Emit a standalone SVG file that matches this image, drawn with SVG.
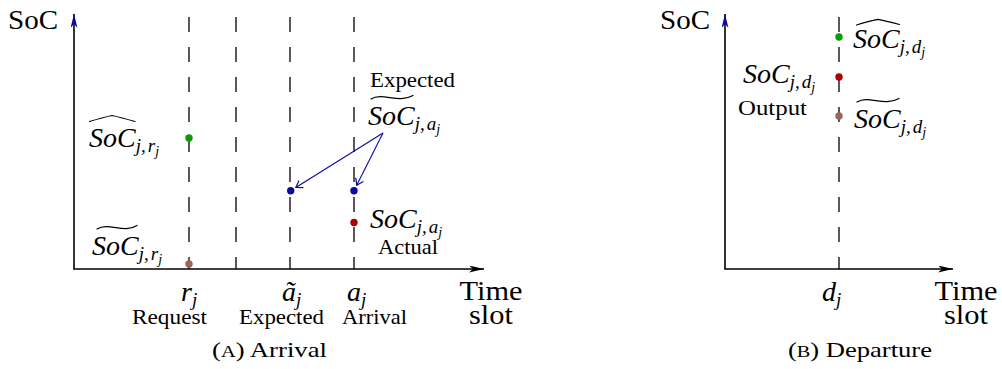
<svg xmlns="http://www.w3.org/2000/svg" width="1002" height="369" viewBox="0 0 1002 369">
<style>
.lbl{font-family:"Liberation Serif",serif;font-size:21px;fill:#000}
.ax{font-family:"Liberation Serif",serif;font-size:28px;fill:#000}
.mi{font-family:"Liberation Serif",serif;font-style:italic;font-size:28px;fill:#000}
.sub{font-size:19px}
.ss{font-size:14px}
.axis{stroke:#000;stroke-width:1.6;fill:none}
.guide{stroke:#000;stroke-width:1.3;stroke-dasharray:15 15;fill:none}
.acc{stroke:#000;stroke-width:1.2;fill:none;stroke-linecap:round;stroke-linejoin:round}
.conn{stroke:#0a0aa0;stroke-width:1.1;fill:none}
.g{fill:#0c9a0c}.r{fill:#b00000}.b{fill:#0a0a9c}.br{fill:#9a6458}
</style>
<defs>
<marker id="stealthK" viewBox="0 0 15 7" refX="15" refY="3.5" markerWidth="15" markerHeight="7" markerUnits="userSpaceOnUse" orient="auto"><path d="M0 0 L15 3.5 L0 7 L4 3.5 Z" fill="#000"/></marker>
<marker id="stealthB" viewBox="0 0 14 7" refX="14" refY="3.5" markerWidth="14" markerHeight="7" markerUnits="userSpaceOnUse" orient="auto"><path d="M0 0 L14 3.5 L0 7 L4 3.5 Z" fill="#0a0aa0"/></marker>
<marker id="toB" viewBox="-7 -5 8 10" refX="0" refY="0" markerWidth="8" markerHeight="10" markerUnits="userSpaceOnUse" orient="auto"><path d="M-6 -4 Q-2 -1.2 0 0 Q-2 1.2 -6 4" fill="none" stroke="#0a0aa0" stroke-width="1.2" stroke-linecap="round"/></marker>
</defs>

<g id="panelA-axes">
<line class="axis" x1="74" y1="269" x2="74" y2="14" marker-end="url(#stealthB)"/>
<line class="axis" x1="73.2" y1="269" x2="484" y2="269" marker-end="url(#stealthK)"/>
<text class="ax" x="8" y="29" textLength="50" lengthAdjust="spacingAndGlyphs">SoC</text>
<text class="ax" x="491" y="300" text-anchor="middle" textLength="63" lengthAdjust="spacingAndGlyphs">Time</text>
<text class="ax" x="491" y="324" text-anchor="middle" textLength="44" lengthAdjust="spacingAndGlyphs">slot</text>
</g>

<g id="panelA-guides">
<line class="guide" x1="189" y1="17" x2="189" y2="269"/>
<line class="guide" x1="236" y1="17" x2="236" y2="269"/>
<line class="guide" x1="290" y1="17" x2="290" y2="269"/>
<line class="guide" x1="354" y1="17" x2="354" y2="269"/>
</g>

<g id="tick-request">
<text class="mi" x="181" y="301">r<tspan class="sub" dy="5">j</tspan></text>
<text class="lbl" x="169.5" y="324" text-anchor="middle" textLength="75" lengthAdjust="spacingAndGlyphs">Request</text>
</g>
<g id="tick-expected">
<text class="mi" x="282" y="301">ã<tspan class="sub" dy="5">j</tspan></text>
<text class="lbl" x="281.5" y="324" text-anchor="middle" textLength="85" lengthAdjust="spacingAndGlyphs">Expected</text>
</g>
<g id="tick-arrival">
<text class="mi" x="347" y="301">a<tspan class="sub" dy="5">j</tspan></text>
<text class="lbl" x="374.5" y="324" text-anchor="middle" textLength="65" lengthAdjust="spacingAndGlyphs">Arrival</text>
</g>

<g id="node-hat-r">
<circle class="g" cx="189" cy="138" r="3.7"/>
<path class="acc" d="M89.5 121.5 Q103 117.5 112 115.5 Q121 117.5 135 121.5"/>
<text class="mi" x="89" y="147">SoC<tspan class="sub" dy="5">j,</tspan><tspan class="sub" dx="2">r</tspan><tspan class="ss" dy="4">j</tspan></text>
</g>
<g id="node-tilde-r">
<circle class="br" cx="189" cy="264" r="3.7"/>
<path class="acc" d="M97 229 C109 222 124 234 137 225.5"/>
<text class="mi" x="92" y="255">SoC<tspan class="sub" dy="5">j,</tspan><tspan class="sub" dx="2">r</tspan><tspan class="ss" dy="4">j</tspan></text>
</g>
<g id="node-expected-a">
<text class="lbl" x="412.5" y="87" text-anchor="middle" textLength="85" lengthAdjust="spacingAndGlyphs">Expected</text>
<path class="acc" d="M371 99 C383 92 398 104 413 95.5"/>
<text class="mi" x="368" y="125">SoC<tspan class="sub" dy="5">j,</tspan><tspan class="sub" dx="2">a</tspan><tspan class="ss" dy="4">j</tspan></text>
</g>
<g id="node-dot-expected">
<circle class="b" cx="290.7" cy="190.7" r="3.7"/>
</g>
<g id="node-dot-arrival">
<circle class="b" cx="354" cy="190.7" r="3.7"/>
</g>
<g id="node-actual">
<circle class="r" cx="354" cy="222.5" r="3.7"/>
<text class="mi" x="370" y="228">SoC<tspan class="sub" dy="5">j,</tspan><tspan class="sub" dx="2">a</tspan><tspan class="ss" dy="4">j</tspan></text>
<text class="lbl" x="408" y="254" text-anchor="middle" textLength="60" lengthAdjust="spacingAndGlyphs">Actual</text>
</g>

<g id="connectors">
<line class="conn" x1="383" y1="133" x2="295.8" y2="187.5" marker-end="url(#toB)"/>
<line class="conn" x1="383" y1="133" x2="356.7" y2="185.3" marker-end="url(#toB)"/>
</g>

<text class="lbl" x="269.5" y="357" text-anchor="middle" textLength="115" lengthAdjust="spacingAndGlyphs">(<tspan font-size="16">A</tspan>) Arrival</text>

<g id="panelB-axes">
<line class="axis" x1="725" y1="269" x2="725" y2="14" marker-end="url(#stealthB)"/>
<line class="axis" x1="724.2" y1="269" x2="953" y2="269" marker-end="url(#stealthK)"/>
<text class="ax" x="660" y="29" textLength="50" lengthAdjust="spacingAndGlyphs">SoC</text>
<text class="ax" x="966" y="300" text-anchor="middle" textLength="63" lengthAdjust="spacingAndGlyphs">Time</text>
<text class="ax" x="966" y="324" text-anchor="middle" textLength="44" lengthAdjust="spacingAndGlyphs">slot</text>
</g>
<g id="panelB-guide">
<line class="guide" x1="839" y1="17" x2="839" y2="269"/>
<text class="mi" x="822" y="301">d<tspan class="sub" dy="5">j</tspan></text>
</g>
<g id="node-hat-d">
<circle class="g" cx="839" cy="37" r="3.7"/>
<path class="acc" d="M856.5 25 Q869 21 878 19.3 Q887 21 899.5 24.5"/>
<text class="mi" x="853" y="48">SoC<tspan class="sub" dy="5">j,</tspan><tspan class="sub" dx="2">d</tspan><tspan class="ss" dy="4">j</tspan></text>
</g>
<g id="node-output">
<circle class="r" cx="839" cy="77" r="3.7"/>
<text class="mi" x="743" y="83">SoC<tspan class="sub" dy="5">j,</tspan><tspan class="sub" dx="2">d</tspan><tspan class="ss" dy="4">j</tspan></text>
<text class="lbl" x="772.5" y="115" text-anchor="middle" textLength="69" lengthAdjust="spacingAndGlyphs">Output</text>
</g>
<g id="node-tilde-d">
<circle class="br" cx="839" cy="116" r="3.7"/>
<path class="acc" d="M857 102 C869 95 884 107 899 98.5"/>
<text class="mi" x="854" y="128">SoC<tspan class="sub" dy="5">j,</tspan><tspan class="sub" dx="2">d</tspan><tspan class="ss" dy="4">j</tspan></text>
</g>

<text class="lbl" x="860" y="357" text-anchor="middle" textLength="144" lengthAdjust="spacingAndGlyphs">(<tspan font-size="16">B</tspan>) Departure</text>
</svg>
